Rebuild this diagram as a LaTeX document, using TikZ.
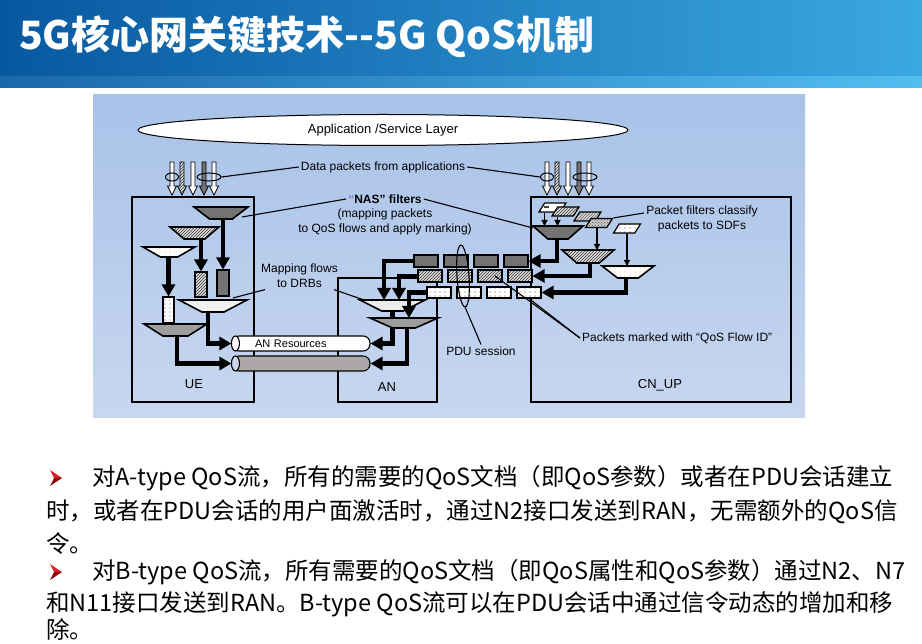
\documentclass[tikz,border=0pt]{standalone}
\usepackage{fontspec}
\setmainfont{Liberation Sans}
\newfontfamily\cjk{Noto Sans CJK SC}
\usetikzlibrary{shapes.geometric,arrows.meta,patterns,calc}

\pgfdeclarepatternformonly{sparse dots}{\pgfqpoint{-1pt}{-1pt}}{\pgfqpoint{1pt}{1pt}}{\pgfqpoint{5pt}{4pt}}{%
  \pgfpathcircle{\pgfqpoint{0pt}{0pt}}{0.6pt}\pgfusepath{fill}}

\definecolor{titleL}{RGB}{8,88,160}
\definecolor{titleR}{RGB}{58,168,226}
\definecolor{stripL}{RGB}{26,104,172}
\definecolor{stripR}{RGB}{82,190,240}
\definecolor{paneTop}{RGB}{168,194,232}
\definecolor{paneBot}{RGB}{200,215,240}
\definecolor{darkgrey}{RGB}{118,118,118}
\definecolor{midgrey}{RGB}{158,158,158}
\definecolor{tubegrey}{RGB}{172,168,168}
\definecolor{tubeend}{RGB}{205,212,234}
\definecolor{bulletred}{RGB}{225,30,30}
\definecolor{bulletdark}{RGB}{140,10,10}
\definecolor{dotyellow}{RGB}{225,190,90}
\definecolor{nasquote}{RGB}{150,110,200}

\tikzset{
  lbl/.style={font=\fontsize{12}{15}\selectfont, align=center, inner sep=2pt},
  boxlbl/.style={font=\fontsize{13}{15}\selectfont, inner sep=1pt},
  body/.style={font=\cjk\fontsize{23.5}{28}\selectfont, anchor=west, inner sep=0pt},
  box/.style={draw, line width=1.8pt},
  filt/.style={trapezium, shape border rotate=180, trapezium stretches=true,
    draw, line width=1.6pt, inner sep=1pt},
  sdf/.style={trapezium, trapezium left angle=70, trapezium right angle=110,
    trapezium stretches=true, draw, line width=1.2pt, inner sep=1pt,
    minimum width=27pt, minimum height=9pt},
  pkt/.style={draw, line width=1.1pt, minimum width=24pt, minimum height=12pt, inner sep=0pt},
  tube/.style={draw, line width=1.1pt, rounded corners=7pt, minimum width=138pt,
    minimum height=15pt, inner ysep=0pt, font=\fontsize{11}{13}\selectfont},
  loopring/.style={ellipse, draw, line width=1pt, inner sep=0pt, minimum height=8pt},
  whitefill/.style={fill=white},
  darkfill/.style={preaction={fill=darkgrey}, pattern=crosshatch dots, pattern color=black!60},
  hatchfill/.style={preaction={fill=gray!25}, pattern=north east lines, pattern color=black!80},
  dotfill/.style={preaction={fill=white}, pattern=sparse dots, pattern color=gray!70!black},
  yelfill/.style={preaction={fill=white}, pattern=sparse dots, pattern color=dotyellow},
  pipe/.style={line width=4.5pt, -{Triangle[length=12pt,width=13pt]}},
  thin/.style={line width=1.3pt, -{Triangle[length=6pt,width=6pt]}},
  callout/.style={line width=1.1pt}
}

\begin{document}
\begin{tikzpicture}[x=1pt, y=-1pt]
  \useasboundingbox (0,0) rectangle (922,644);
  \fill[white] (0,0) rectangle (922,644);

  % title bar
  \fill[left color=titleL, right color=titleR] (0,0) rectangle (922,77);
  \fill[left color=stripL, right color=stripR] (0,77) rectangle (922,88);
  \node[anchor=west, text=white, inner sep=0pt, font=\cjk\bfseries\fontsize{39}{42}\selectfont]
    (title) at (19,37) {5G核心网关键技术--5G QoS机制};

  % diagram pane
  \fill[top color=paneTop, bottom color=paneBot] (93,95) rectangle (805,418);
  \node[draw, ellipse, fill=white, line width=1pt, minimum width=490pt, minimum height=31pt,
    inner sep=0pt, font=\fontsize{13}{15}\selectfont] (app) at (383,130) {Application /Service Layer};
  \node[lbl] (data) at (383,167) {Data packets from applications};

  % packets coming down from the applications
  \foreach \off in {0,375}
    \foreach \x/\f in {172/dotfill,182/hatchfill,193/whitefill,204/darkfill,214/whitefill}
      \draw[\f, line width=0.8pt] (\x+\off-2,162) -- (\x+\off+2,162) -- (\x+\off+2,186)
        -- (\x+\off+4.5,186) -- (\x+\off,195) -- (\x+\off-4.5,186) -- (\x+\off-2,186) -- cycle;
  \node[loopring, minimum width=13pt] (ueloopA) at (172,177) {};
  \node[loopring, minimum width=24pt] (ueloopB) at (209,177) {};
  \node[loopring, minimum width=13pt] (cnloopA) at (547,177) {};
  \node[loopring, minimum width=24pt] (cnloopB) at (585,177) {};
  \draw[callout] (data.west) -- (ueloopB.east);
  \draw[callout] (data.east) -- (cnloopA.west);

  % the three boxes
  \node[box, minimum width=122pt, minimum height=205pt] (ue) at (193,299.5) {};
  \node[box, minimum width=99pt, minimum height=124pt] (an) at (387.5,340) {};
  \node[box, minimum width=260pt, minimum height=205pt] (cn) at (661,299.5) {};
  \node[boxlbl] (uelbl) at (194,384) {UE};
  \node[boxlbl] (anlbl) at (387,387) {AN};
  \node[boxlbl] (cnlbl) at (660,385) {CN\_UP};

  % AN resources
  \node[tube, fill=white, text width=92pt, inner xsep=23pt, align=left] (res1) at (301,343.5) {AN Resources};
  \draw[line width=1.1pt, fill=white] (res1.west) ++(4,0) ellipse [x radius=4, y radius=7.5];
  \node[tube, fill=tubegrey] (res2) at (301,363.5) {};
  \draw[line width=1.1pt, fill=tubeend] (res2.west) ++(4,0) ellipse [x radius=4, y radius=7.5];

  % UE
  \node[filt, darkfill, minimum width=54pt, minimum height=12pt, trapezium angle=56] (t1) at (221,213) {};
  \node[filt, hatchfill, minimum width=49pt, minimum height=12pt, trapezium angle=56] (t2) at (194.5,233) {};
  \node[filt, yelfill, minimum width=52pt, minimum height=10pt, trapezium angle=45] (t3) at (169,252) {};
  \node[pkt, darkfill, minimum width=12pt, minimum height=26pt] (r1) at (223,283) {};
  \node[pkt, hatchfill, minimum width=12pt, minimum height=25pt] (r2) at (201,284.5) {};
  \node[pkt, dotfill, minimum width=11pt, minimum height=26pt] (r3) at (168.5,310) {};
  \node[filt, fill=gray!12, minimum width=68pt, minimum height=12pt, trapezium angle=44] (t4) at (213,306) {};
  \node[filt, fill=midgrey, minimum width=63pt, minimum height=12pt, trapezium angle=53] (t5) at (175.5,330) {};
  \draw[pipe] ($(r1.north |- t1.center)+(0,6)$) -- (r1.north);
  \draw[pipe] ($(r2.north |- t2.center)+(0,6)$) -- (r2.north);
  \draw[pipe] ($(r3.north |- t3.center)+(0,5)$) -- (r3.north);
  \draw[pipe] ($(t4.center)+(-5,6)$) |- (res1.west);
  \draw[pipe] ($(t5.center)+(1.5,6)$) |- (res2.west);

  % AN
  \node[filt, fill=gray!15, minimum width=65pt, minimum height=11pt, trapezium angle=45] (a1) at (392.5,305.5) {};
  \draw[pipe] ($(a1.center)+(0,5.5)$) |- (res1.east);
  \node[filt, fill=midgrey, minimum width=68pt, minimum height=10pt, trapezium angle=45] (a2) at (404,323) {};
  \draw[pipe] ($(a2.center)+(3,5)$) |- (res2.east);

  % PDU session packets
  \foreach \x [count=\i] in {426,456,486,516}
    \node[pkt, darkfill] (d\i) at (\x,261) {};
  \foreach \x [count=\i] in {430,460,490,520}
    \node[pkt, hatchfill] (h\i) at (\x,276) {};
  \foreach \x [count=\i] in {439,469,499,529}
    \node[pkt, dotfill, minimum height=11pt] (w\i) at (\x,292.5) {};

  \coordinate (a1-inA) at ($(a1.center)+(-8.5,-5.5)$);
  \coordinate (a1-inB) at ($(a1.center)+(6.5,-5.5)$);
  \coordinate (a2-in) at ($(a2.center)+(5,-5)$);
  \draw[pipe] (d1.west) -| (a1-inA);
  \draw[pipe] (h1.west) -| (a1-inB);
  \draw[pipe] (w1.west) -| (a2-in);

  % CN_UP
  \node[sdf, whitefill] (p1) at (552.5,207.5) {};
  \fill[black!75] ($(p1.center)+(-9,-1)$) rectangle ++(5,2);
  \node[sdf, hatchfill] (p2) at (565.5,211.5) {};
  \node[sdf, preaction={fill=gray!30}, pattern=north east lines, pattern color=gray!80!black] (p3) at (587.5,216.5) {};
  \node[sdf, preaction={fill=gray!40}, pattern=crosshatch dots, pattern color=gray!50!black] (p4) at (599,223) {};
  \node[sdf, dotfill] (p5) at (627,228.5) {};
  \node[filt, darkfill, minimum width=50pt, minimum height=13pt, trapezium angle=54] (c1) at (558,232.5) {};
  \node[filt, hatchfill, minimum width=52pt, minimum height=13pt, trapezium angle=57] (c2) at (588,256.5) {};
  \node[filt, yelfill, minimum width=52pt, minimum height=12pt, trapezium angle=53] (c3) at (628,272) {};
  \coordinate (c1-top) at ($(c1.center)+(0,-6.5)$);
  \coordinate (c2-top) at ($(c2.center)+(0,-6.5)$);
  \coordinate (c3-top) at ($(c3.center)+(0,-6)$);
  \draw[thin] ([xshift=-8pt]p1.south) coordinate (s) -- (s |- c1-top);
  \draw[thin] ([xshift=-8pt]p2.south) coordinate (s) -- (s |- c1-top);
  \draw[thin] ([xshift=-2pt]p4.south) coordinate (s) -- (s |- c2-top);
  \draw[thin] (p5.south) -- (p5.south |- c3-top);
  \draw[pipe] ($(c1.center)+(-1,6.5)$) |- (d4.east);
  \draw[pipe] ($(c2.center)+(2,6.5)$) |- (h4.east);
  \draw[pipe] ($(c3.center)+(-2,6)$) |- (w4.east);

  \node[ellipse, draw, line width=1.1pt, minimum width=12pt, minimum height=62pt, rotate=4, inner sep=0pt]
    (pduloop) at (463,276) {};

  % labels
  \node[lbl, font=\fontsize{12}{15}\selectfont\bfseries] (nas) at (385,199) {\textcolor{nasquote}{“}NAS” filters};
  \node[lbl] (nasnote) at (385,221.5) {(mapping packets\\to QoS flows and apply marking)};
  \node[lbl] (mapflow) at (299.5,275.5) {Mapping flows\\to DRBs};
  \node[lbl] (pfc) at (702,219) {Packet filters classify\\packets to SDFs};
  \node[lbl] (pdu) at (481,351) {PDU session};
  \node[lbl, anchor=west] (mark) at (580,338) {Packets marked with “QoS Flow ID”};

  \draw[callout] (nas.west) -- ($(t1.center)+(21,4)$);
  \draw[callout] (nas.east) -- ($(c1.center)+(-25,-4.5)$);
  \draw[callout] ([xshift=6pt]mapflow.south west) -- ($(t4.center)+(20,-8)$);
  \draw[callout] ([xshift=-6pt]mapflow.south east) -- ($(a1.center)+(-30,-6)$);
  \draw[callout] ([yshift=6pt]pfc.west) -- (p4.top right corner);
  \draw[callout] (pdu.north) -- (pduloop.south);
  \draw[callout] (mark.west) -- ($(h3.center)+(5,0)$);
  \draw[callout] (mark.west) -- (w4.south);

  % notes below
  \fill[bulletred] (50,470) -- (62,478) -- (54,478) -- cycle;
  \fill[bulletdark] (50,486) -- (62,478) -- (54,478) -- cycle;
  \fill[bulletred] (50,564) -- (62,572) -- (54,572) -- cycle;
  \fill[bulletdark] (50,580) -- (62,572) -- (54,572) -- cycle;
  \node[body] (l1) at (92,478) {对A-type QoS流，所有的需要的QoS文档（即QoS参数）或者在PDU会话建立};
  \node[body] (l2) at (46,512) {时，或者在PDU会话的用户面激活时，通过N2接口发送到RAN，无需额外的QoS信};
  \node[body] (l3) at (46,544) {令。};
  \node[body] (l4) at (92,572) {对B-type QoS流，所有需要的QoS文档（即QoS属性和QoS参数）通过N2、N7};
  \node[body] (l5) at (46,604) {和N11接口发送到RAN。B-type QoS流可以在PDU会话中通过信令动态的增加和移};
  \node[body] (l6) at (46,629) {除。};
\end{tikzpicture}
\end{document}
